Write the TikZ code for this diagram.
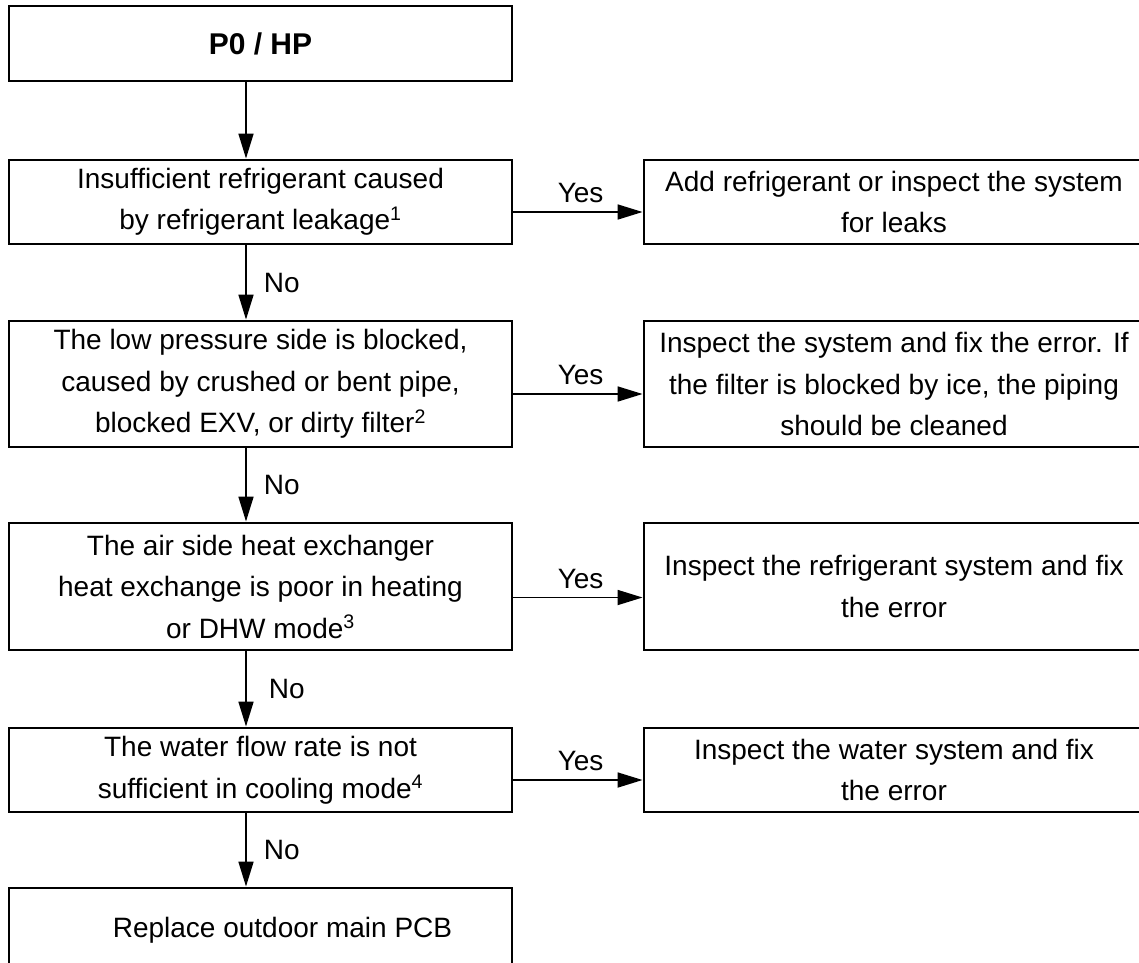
\documentclass[tikz,border=0pt]{standalone}
\usepackage{fontspec}
\setmainfont{Liberation Sans}
\usetikzlibrary{arrows.meta}
\begin{document}
\begin{tikzpicture}[x=1pt,y=-1pt,
  box/.style={draw,line width=2.9pt,rectangle,align=center,inner sep=0pt,font=\fontsize{28}{41.5}\selectfont},
  lbox/.style={box,minimum width=503pt},
  rbox/.style={box,minimum width=500pt},
  arr/.style={line width=1.7pt,-{Triangle[length=25pt,width=15pt]}},
  lab/.style={font=\fontsize{28}{34}\selectfont,inner sep=0pt}]
\useasboundingbox (0,0) rectangle (1139,962);
\clip (0,0) rectangle (1139,962);
\node[lbox,minimum height=75pt,font=\fontsize{30}{36}\selectfont\bfseries] (b1) at (260.5,43.5) {P0 / HP};
\node[lbox,minimum height=84pt] (b2) at (260.5,202) {Insufficient refrigerant caused\\by refrigerant leakage\textsuperscript{1}};
\node[rbox,minimum height=84pt] (b2r) at (894,202) {Add refrigerant or inspect the system\\for leaks};
\node[lbox,minimum height=126pt] (b3) at (260.5,384) {The low pressure side is blocked,\\caused by crushed or bent pipe,\\blocked EXV, or dirty filter\textsuperscript{2}};
\node[rbox,minimum height=126pt] (b3r) at (894,384) {Inspect the system and fix the error. If\\the filter is blocked by ice, the piping\\should be cleaned};
\node[lbox,minimum height=127pt] (b4) at (260.5,586.5) {The air side heat exchanger\\heat exchange is poor in heating\\or DHW mode\textsuperscript{3}};
\node[rbox,minimum height=127pt] (b4r) at (894,586.5) {Inspect the refrigerant system and fix\\the error};
\node[lbox,minimum height=84pt] (b5) at (260.5,770) {The water flow rate is not\\sufficient in cooling mode\textsuperscript{4}};
\node[rbox,minimum height=84pt] (b5r) at (894,770) {Inspect the water system and fix\\the error};
\node[lbox,minimum height=84pt] (b6) at (260.5,930) {\hspace*{44pt}Replace outdoor main PCB};
% vertical arrows
\draw[arr] ([xshift=-14.5pt]b1.south) -- ([xshift=-14.5pt]b2.north);
\draw[arr] ([xshift=-14.5pt]b2.south) -- node[midway,right=17pt,lab]{No} ([xshift=-14.5pt]b3.north);
\draw[arr] ([xshift=-14.5pt]b3.south) -- node[midway,right=17pt,lab]{No} ([xshift=-14.5pt]b4.north);
\draw[arr] ([xshift=-14.5pt]b4.south) -- node[midway,right=22pt,lab]{No} ([xshift=-14.5pt]b5.north);
\draw[arr] ([xshift=-14.5pt]b5.south) -- node[midway,right=17pt,lab]{No} ([xshift=-14.5pt]b6.north);
% horizontal arrows
\draw[arr] ([yshift=-10pt]b2.east) -- node[pos=0.52,above=8pt,lab]{Yes} ([yshift=-10pt]b2r.west);
\draw[arr] ([yshift=-10pt]b3.east) -- node[pos=0.52,above=8pt,lab]{Yes} ([yshift=-10pt]b3r.west);
\draw[arr] ([yshift=-11pt]b4.east) -- node[pos=0.52,above=8pt,lab]{Yes} ([yshift=-11pt]b4r.west);
\draw[arr] ([yshift=-10pt]b5.east) -- node[pos=0.52,above=8pt,lab]{Yes} ([yshift=-10pt]b5r.west);
\end{tikzpicture}
\end{document}
